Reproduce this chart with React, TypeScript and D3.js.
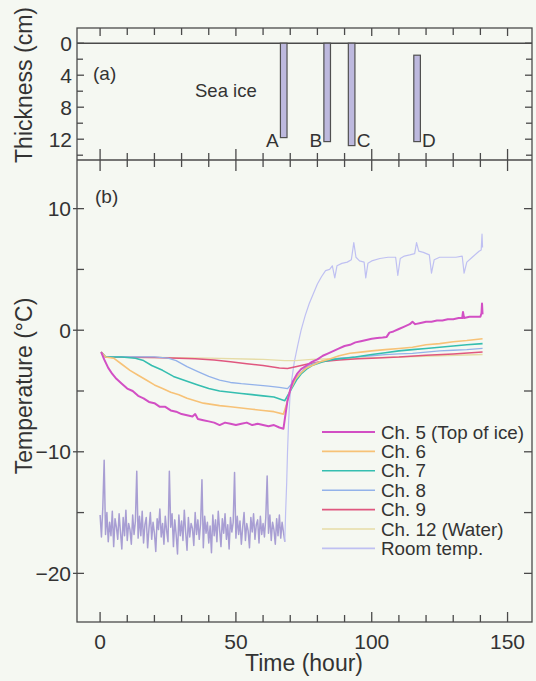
import React from "react";
import * as d3 from "d3";

// ---------- DATA ----------
const ICE_LABELS = ["A", "B", "C", "D"];
const ICE_HOURS = [67.6, 83.6, 92.6, 116.7];
const ICE_TOP = [0, 0, 0, 1.5];
const ICE_BOTTOM = [11.8, 12.3, 12.8, 12.3];

const X_TICKS = [0, 50, 100, 150];
const T_TICKS = [10, 0, -10, -20];
const THICK_TICKS = [0, 4, 8, 12];

// Room temperature while cold (every 0.5 h from 0 h)
const ROOM_STEP = 0.5;
const ROOM_COLD = [
  -15.2, -17.0, -14.6, -10.7, -16.8, -15.0, -17.4, -15.8, -16.9, -14.9,
  -17.8, -15.5, -16.2, -17.2, -15.1, -16.6, -18.0, -15.4, -16.9, -14.8,
  -17.3, -15.9, -16.4, -17.6, -15.2, -16.8, -15.7, -11.6, -17.1, -15.3,
  -16.9, -14.9, -17.5, -16.0, -15.4, -17.9, -16.3, -15.0, -17.2, -15.8,
  -16.7, -18.2, -15.5, -16.4, -14.7, -17.0, -15.9, -17.6, -15.3, -16.5,
  -17.4, -11.6, -16.2, -15.1, -17.8, -15.6, -16.8, -18.4, -15.2, -16.9,
  -15.7, -17.3, -14.8, -16.6, -18.1, -15.4, -17.0, -15.9, -16.3, -17.7,
  -15.0, -16.8, -15.6, -17.2, -15.9, -12.3, -17.9, -15.3, -16.7, -15.8,
  -17.5, -16.1, -18.3, -15.2, -16.9, -15.6, -17.4, -14.9, -16.4, -17.8,
  -15.5, -16.7, -15.1, -17.2, -16.0, -18.0, -15.4, -16.6, -15.8, -11.7,
  -17.1, -15.3, -16.8, -15.7, -17.6, -16.2, -15.0, -17.3, -15.9, -16.5,
  -17.9, -15.4, -16.6, -15.1, -17.2, -16.0, -15.6, -17.5, -15.3, -16.8,
  -15.9, -17.0, -15.4, -12.0, -16.7, -15.2, -17.3, -15.8, -16.4, -17.6,
  -15.5, -16.9, -15.2, -17.1, -15.8, -16.6, -17.4,
];
// Room temperature after warming [hour, °C]
const ROOM_WARM: [number, number][] = [
  [68.3, -15.0], [68.7, -12.5], [69.0, -10], [69.4, -7.5], [69.9, -5.5], [70.6, -4],
  [71.5, -2.6], [72.7, -1.3], [74, 0], [75.5, 1.2], [77, 2.2], [78.5, 3.0], [80, 3.8],
  [81.5, 4.4], [83, 4.9], [84.5, 5.0], [85.5, 5.3], [86.4, 4.3], [87.2, 5.3], [89, 5.5],
  [91, 5.6], [92.5, 5.8], [93.4, 7.2], [94.2, 6.0], [95.5, 5.7], [97.2, 5.6], [97.8, 4.3],
  [98.6, 5.5], [100, 5.7], [103, 5.9], [106, 6.0], [108.8, 6.0], [109.6, 4.5], [110.5, 5.9],
  [112, 6.1], [114, 6.2], [115.8, 6.3], [116.5, 7.2], [117.3, 6.5], [119, 6.4], [121.2, 6.2],
  [122, 4.7], [123, 5.8], [125, 6.0], [128, 6.0], [131, 6.0], [133.3, 6.1], [134, 4.7],
  [135, 5.6], [137, 6.0], [139.5, 6.5], [140.3, 6.6], [140.6, 7.9], [140.8, 6.8],
];

const CH5: [number, number][] = [
  [0.4, -1.8], [1.5, -2.4], [3, -3.1], [4.5, -3.6], [6, -4.0], [8, -4.4], [10, -4.8], [12, -5.0],
  [14, -5.4], [16, -5.6], [18, -5.9], [20, -6.0], [22, -6.3], [24, -6.3], [26, -6.6], [28, -6.7],
  [30, -6.9], [32, -7.0], [34, -7.1], [35, -6.9], [36, -7.3], [38, -7.4], [40, -7.5], [42, -7.6],
  [44, -7.8], [46, -7.6], [48, -7.7], [50, -7.8], [52, -7.7], [54, -7.6], [56, -7.8], [58, -7.7],
  [60, -7.8], [62, -7.9], [64, -7.8], [66, -8.0], [67.5, -8.1], [68.2, -7.0], [69, -5.8],
  [70, -4.9], [71, -4.2], [72.5, -3.6], [74, -3.2], [76, -2.9], [78, -2.6], [80, -2.4],
  [82, -2.1], [84, -1.9], [86, -1.7], [88, -1.5], [90, -1.3], [92, -1.2], [94, -1.0],
  [96, -0.9], [98, -0.8], [100, -0.7], [102, -0.65], [104, -0.6], [105.5, -0.55], [106.5, -0.2],
  [108, -0.1], [110, 0.1], [112, 0.3], [114, 0.5], [115, 0.7], [116, 0.5], [118, 0.6],
  [120, 0.7], [122, 0.7], [124, 0.8], [126, 0.8], [128, 0.9], [130, 0.9], [132, 1.0],
  [133.3, 1.0], [133.6, 1.5], [134, 1.0], [136, 1.1], [138, 1.1], [140, 1.1], [140.4, 1.4],
  [140.6, 2.2], [140.8, 1.3],
];
const CH6: [number, number][] = [
  [0.4, -1.8], [2, -2.2], [5, -2.3], [8, -2.8], [11, -3.3], [14, -3.7], [17, -4.1], [20, -4.5],
  [23, -4.8], [26, -5.1], [29, -5.3], [32, -5.6], [35, -5.8], [38, -6.0], [41, -6.1], [44, -6.2],
  [48, -6.3], [52, -6.4], [56, -6.5], [60, -6.6], [64, -6.7], [67.5, -6.9], [68.5, -6.2],
  [70, -4.9], [72, -4.0], [74, -3.5], [76, -3.1], [78, -2.9], [81, -2.6], [84, -2.4], [88, -2.1],
  [92, -1.9], [96, -1.8], [100, -1.7], [105, -1.6], [110, -1.5], [115, -1.4], [120, -1.2],
  [125, -1.1], [130, -0.95], [135, -0.85], [140.8, -0.7],
];
const CH7: [number, number][] = [
  [0.4, -1.8], [2, -2.2], [8, -2.2], [13, -2.3], [16, -2.5], [19, -2.9], [23, -3.3], [27, -3.8],
  [32, -4.2], [36, -4.5], [40, -4.8], [44, -5.0], [48, -5.1], [52, -5.2], [56, -5.3], [60, -5.4],
  [64, -5.5], [68, -5.8], [69, -5.4], [70.5, -4.8], [72.3, -4.1], [74, -3.6], [76, -3.2],
  [78, -2.9], [82, -2.6], [86, -2.4], [90, -2.3], [94, -2.2], [100, -2.0], [105, -1.85],
  [110, -1.7], [115, -1.6], [120, -1.5], [125, -1.4], [130, -1.3], [135, -1.2], [140.8, -1.1],
];
const CH8: [number, number][] = [
  [0.4, -1.8], [2, -2.2], [20, -2.2], [25, -2.3], [28, -2.5], [32, -3.0], [36, -3.4], [40, -3.8],
  [44, -4.1], [48, -4.3], [52, -4.4], [57, -4.5], [62, -4.6], [66, -4.7], [69, -4.8], [71, -4.3],
  [73, -3.7], [76, -3.0], [79, -2.7], [83, -2.5], [88, -2.3], [95, -2.2], [100, -2.1],
  [105, -2.0], [110, -1.95], [115, -1.9], [120, -1.8], [125, -1.7], [130, -1.65], [135, -1.6],
  [140.8, -1.5],
];
const CH9: [number, number][] = [
  [0.4, -1.8], [2, -2.2], [20, -2.25], [35, -2.35], [42, -2.45], [48, -2.6], [54, -2.75],
  [60, -2.9], [66, -3.1], [69, -3.15], [72, -3.0], [76, -2.8], [81, -2.6], [88, -2.45],
  [95, -2.35], [100, -2.3], [110, -2.2], [120, -2.05], [130, -1.95], [140.8, -1.8],
];
const CH12: [number, number][] = [
  [0.4, -1.8], [2, -2.2], [20, -2.25], [40, -2.3], [60, -2.4], [68, -2.5], [72, -2.5],
  [78, -2.4], [85, -2.35], [95, -2.3], [110, -2.2], [125, -2.1], [140.8, -2.0],
];

const SERIES_NAMES = ["Ch. 5 (Top of ice)", "Ch. 6", "Ch. 7", "Ch. 8", "Ch. 9", "Ch. 12 (Water)", "Room temp."];
const SERIES_COLORS = ["#d24fc4", "#f7c277", "#35beb0", "#93b2ea", "#e0577f", "#e6dca6", "#bfc0f2"];

// ---------- LAYOUT ----------
const W = 536, H = 681;
const L = 77, R = 532, TOP = 28, MID = 160, BOT = 622;
const FONT = "'Liberation Sans', Arial, Helvetica, sans-serif";
const AX = "#4a4a4a";
const TXT = "#333";

export default function App() {
  const x = d3.scaleLinear().domain([-8.5, 159]).range([L, R]);
  const yT = d3.scaleLinear().domain([-1.9, 14.6]).range([TOP, MID]);
  const yB = d3.scaleLinear().domain([-24, 14]).range([BOT, MID]);

  const line = d3.line<[number, number]>().x(d => x(d[0])).y(d => yB(d[1]));

  const roomCold: [number, number][] = ROOM_COLD.map((v, i) => [i * ROOM_STEP, v] as [number, number]);
  const roomWarm: [number, number][] = [roomCold[roomCold.length - 1] as [number, number]].concat(ROOM_WARM);
  const seriesData = [CH5, CH6, CH7, CH8, CH9, CH12];
  const widths = [2, 1.6, 1.6, 1.3, 1.5, 1.4];

  const minorX = d3.range(0, 151, 10);
  const thickMinor = d3.range(0, 15, 2);
  const tempMinor = d3.range(-20, 11, 5);

  const ticks: JSX.Element[] = [];
  minorX.forEach(h => {
    const major = h % 50 === 0;
    const xx = x(h);
    ticks.push(<line key={"tt" + h} x1={xx} x2={xx} y1={TOP} y2={TOP + (major ? 8 : 7)} />);
    ticks.push(<line key={"mt" + h} x1={xx} x2={xx} y1={MID - (major ? 11 : 7)} y2={MID + (major ? 11 : 7)} />);
    ticks.push(<line key={"bt" + h} x1={xx} x2={xx} y1={BOT} y2={BOT - (major ? 10 : 7)} />);
  });
  thickMinor.forEach(c => {
    const major = c % 4 === 0;
    const yy = yT(c);
    ticks.push(<line key={"lt" + c} x1={L} x2={L + (major ? 7 : 6)} y1={yy} y2={yy} />);
    ticks.push(<line key={"rt" + c} x1={R} x2={R - (major ? 7 : 6)} y1={yy} y2={yy} />);
  });
  tempMinor.forEach(t => {
    const major = t % 10 === 0;
    const yy = yB(t);
    ticks.push(<line key={"lb" + t} x1={major ? L - 4 : L} x2={L + 7} y1={yy} y2={yy} />);
    ticks.push(<line key={"rb" + t} x1={R} x2={R - 8} y1={yy} y2={yy} />);
  });

  const order = [5, 4, 3, 2, 1, 0];
  const legY0 = 432, legDy = 19.4;

  return (
    <svg width={W} height={H} style={{ position: "absolute", left: 0, top: 0 }} fontFamily={FONT}>
      <rect x={0} y={0} width={W} height={H} fill="#f5f8f2" />
      <defs>
        <clipPath id="clipB">
          <rect x={L} y={MID} width={R - L} height={BOT - MID} />
        </clipPath>
      </defs>

      {/* Panel (a) */}
      <line x1={L} x2={R} y1={yT(0)} y2={yT(0)} stroke={AX} strokeWidth={1.6} />
      {ICE_LABELS.map((lab, i) => {
        const cx = x(ICE_HOURS[i]);
        const y0 = yT(ICE_TOP[i]);
        const y1 = yT(ICE_BOTTOM[i]);
        const leftLabel = i < 2;
        return (
          <g key={lab}>
            <rect x={cx - 3.3} y={y0} width={6.6} height={y1 - y0} fill="#bdb9de" stroke="#505050" strokeWidth={1.2} />
            <text x={leftLabel ? cx - 5 : cx + 5} y={147} fontSize={19} fill={TXT}
              textAnchor={leftLabel ? "end" : "start"}>{lab}</text>
          </g>
        );
      })}
      <text x={93} y={80} fontSize={19} fill={TXT}>(a)</text>
      <text x={195} y={97} fontSize={18.5} fill={TXT}>Sea ice</text>
      {THICK_TICKS.map(c => (
        <text key={c} x={72} y={yT(c) + 7.5} fontSize={21} fill={TXT} textAnchor="end">{c}</text>
      ))}

      {/* Panel (b) */}
      <g clipPath="url(#clipB)" fill="none" strokeLinejoin="round">
        <path d={line(roomCold) || ""} stroke="#a89ed3" strokeWidth={1.5} />
        <path d={line(roomWarm) || ""} stroke={SERIES_COLORS[6]} strokeWidth={1.2} />
        {order.map(i => (
          <path key={i} d={line(seriesData[i]) || ""} stroke={SERIES_COLORS[i]} strokeWidth={widths[i]} />
        ))}
      </g>
      <text x={95} y={203} fontSize={19} fill={TXT}>(b)</text>
      {T_TICKS.map(t => (
        <text key={t} x={71} y={yB(t) + 7.5} fontSize={21} fill={TXT} textAnchor="end">{t < 0 ? "\u2212" + Math.abs(t) : t}</text>
      ))}
      {X_TICKS.map(h => (
        <text key={h} x={x(h)} y={649} fontSize={21} fill={TXT} textAnchor="middle">{h}</text>
      ))}

      {/* Legend */}
      {SERIES_NAMES.map((n, i) => (
        <g key={n}>
          <line x1={322} x2={375} y1={legY0 + i * legDy} y2={legY0 + i * legDy} stroke={SERIES_COLORS[i]} strokeWidth={i === 0 ? 2 : 1.6} />
          <text x={381} y={legY0 + i * legDy + 6.5} fontSize={18.8} fill={TXT}>{n}</text>
        </g>
      ))}

      {/* Frames and ticks */}
      <g stroke={AX} strokeWidth={1.3} fill="none">
        <rect x={L} y={TOP} width={R - L} height={BOT - TOP} />
        <line x1={L} x2={R} y1={MID} y2={MID} />
        {ticks}
      </g>

      {/* Axis titles */}
      <text transform={`translate(32,85) rotate(-90)`} fontSize={23} fill={TXT} textAnchor="middle">Thickness (cm)</text>
      <text transform={`translate(32,386) rotate(-90)`} fontSize={23} fill={TXT} textAnchor="middle">Temperature (°C)</text>
      <text x={304} y={671} fontSize={23} fill={TXT} textAnchor="middle">Time (hour)</text>
    </svg>
  );
}
